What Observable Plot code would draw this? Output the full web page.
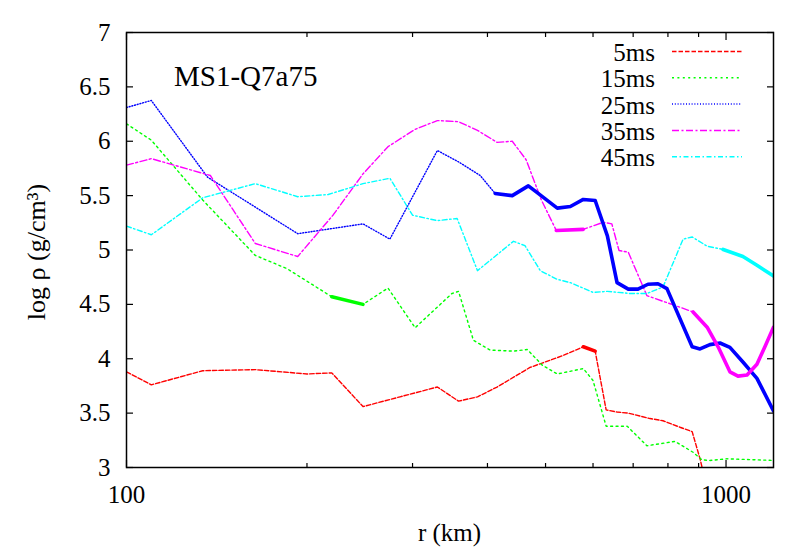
<!DOCTYPE html>
<html>
<head>
<meta charset="utf-8">
<script src="https://cdn.jsdelivr.net/npm/d3@7"></script>
<script src="https://cdn.jsdelivr.net/npm/@observablehq/plot@0.6"></script>
<style>
  html, body { margin: 0; padding: 0; background: #fff; }
  #chart { width: 789px; height: 552px; }
</style>
</head>
<body>
<div id="chart"></div>
<script>
// ---- data ----
const seriesNames = ["5ms", "15ms", "25ms", "35ms", "45ms"];
const seriesColors = ["#ff0000", "#00ff00", "#0000ff", "#ff00ff", "#00ffff"];
const seriesDash = ["4.5,2", "2,3.4", "1,1.8", "7,2.5,2,2.5", "5,2.5,1.5,2.5"];

const r5   = [100, 110, 134, 164, 200, 220, 248, 286, 330, 358, 385, 415, 471, 535, 578, 605, 631, 658, 687, 747, 785, 838, 878, 905, 935];
const rho5 = [3.88, 3.76, 3.89, 3.90, 3.86, 3.87, 3.56, 3.65, 3.74, 3.61, 3.65, 3.74, 3.92, 4.03, 4.11, 4.07, 3.53, 3.51, 3.50, 3.45, 3.43, 3.37, 3.33, 3.08, 2.75];

const r15   = [100, 110, 134, 164, 185, 220, 248, 273, 303, 349, 358, 379, 404, 442, 466, 494, 523, 578, 600, 631, 684, 738, 822, 881, 912, 940, 1004, 1200];
const rho15 = [6.16, 6.01, 5.46, 4.95, 4.83, 4.57, 4.50, 4.65, 4.285, 4.60, 4.62, 4.17, 4.08, 4.07, 4.085, 3.94, 3.86, 3.91, 3.80, 3.38, 3.38, 3.20, 3.24, 3.14, 3.07, 3.065, 3.08, 3.065];

const r25   = [100, 110, 136.5, 193, 248, 275, 330, 358, 389, 412, 440, 468, 486, 523, 550, 578, 605, 634, 658, 687, 713, 741, 770, 797, 878, 905, 940, 977, 1015, 1067, 1126, 1200];
const rho25 = [6.31, 6.375, 5.67, 5.15, 5.24, 5.10, 5.915, 5.81, 5.685, 5.52, 5.50, 5.59, 5.52, 5.385, 5.40, 5.465, 5.455, 5.13, 4.70, 4.64, 4.64, 4.685, 4.69, 4.645, 4.11, 4.09, 4.13, 4.145, 4.105, 3.97, 3.82, 3.52];

const r35   = [100, 110, 138, 164, 193, 221, 248, 273, 303, 330, 358, 385, 415, 440, 464, 492, 521, 578, 624, 645, 663, 687, 738, 822, 881, 930, 970, 1015, 1047, 1084, 1126, 1161, 1200];
const rho35 = [5.78, 5.84, 5.685, 5.06, 4.94, 5.32, 5.70, 5.95, 6.11, 6.19, 6.18, 6.10, 5.99, 6.00, 5.83, 5.46, 5.18, 5.19, 5.255, 5.24, 4.995, 4.98, 4.58, 4.49, 4.43, 4.29, 4.11, 3.88, 3.84, 3.85, 3.95, 4.11, 4.29];

const r45   = [100, 110, 134, 164, 193, 217, 248, 275, 300, 330, 356, 385, 442, 462, 490, 523, 550, 600, 634, 692, 738, 785, 848, 878, 930, 989, 1067, 1126, 1200];
const rho45 = [5.22, 5.14, 5.48, 5.61, 5.49, 5.51, 5.61, 5.66, 5.32, 5.27, 5.29, 4.81, 5.08, 5.04, 4.81, 4.73, 4.70, 4.61, 4.62, 4.60, 4.60, 4.66, 5.10, 5.12, 5.035, 5.005, 4.94, 4.86, 4.76];

// highlighted (solid, thick) parts of each curve: [series index, r from, r to]
const thickSeries = [0, 1, 2, 3, 3, 4];
const thickFrom   = [578, 220, 412, 521, 881, 989];
const thickTo     = [605, 248, 1200, 605, 1200, 1200];

const yTicks = [3, 3.5, 4, 4.5, 5, 5.5, 6, 6.5, 7];
const xMajor = [100, 1000];
const xMinor = [200, 300, 400, 500, 600, 700, 800, 900];

const titleText = "MS1-Q7a75";
const xLabel = "r (km)";
const yLabel = "log ρ (g/cm³)";

// ---- build ----
const fam = "Liberation Serif, DejaVu Serif, Noto Serif, Tinos, FreeSerif, Times, serif";
const allR = [r5, r15, r25, r35, r45];
const allRho = [rho5, rho15, rho25, rho35, rho45];
const tables = allR.map((rs, i) => rs.map((r, j) => ({r, rho: allRho[i][j]})));

const marks = [];
tables.forEach((t, i) => {
  marks.push(Plot.line(t, {x: "r", y: "rho", stroke: seriesColors[i], strokeWidth: 1.4,
    strokeDasharray: seriesDash[i], clip: true}));
});
thickSeries.forEach((s, k) => {
  const sub = tables[s].filter(d => d.r >= thickFrom[k] && d.r <= thickTo[k]);
  marks.push(Plot.line(sub, {x: "r", y: "rho", stroke: seriesColors[s], strokeWidth: 3.6, clip: true}));
});

const axisCommon = {label: null, stroke: "#000", strokeWidth: 1.2};
marks.push(
  Plot.axisY(yTicks, {...axisCommon, anchor: "left", tickSize: -7, text: null}),
  Plot.axisY(yTicks, {...axisCommon, anchor: "right", tickSize: -7, text: null}),
  Plot.axisY(yTicks, {anchor: "left", label: null, tickSize: 0, tickPadding: 16, tickFormat: d => String(d)}),
  Plot.axisX(xMinor, {...axisCommon, anchor: "bottom", tickSize: -4, text: null}),
  Plot.axisX(xMinor, {...axisCommon, anchor: "top", tickSize: -4, text: null}),
  Plot.axisX(xMajor, {...axisCommon, anchor: "bottom", tickSize: -7, text: null}),
  Plot.axisX(xMajor, {...axisCommon, anchor: "top", tickSize: -7, text: null}),
  Plot.axisX(xMajor, {anchor: "bottom", label: null, tickSize: 0, tickPadding: 18, tickFormat: d => String(d)}),
  Plot.frame({stroke: "#000", strokeWidth: 1.5})
);

const svg = Plot.plot({
  width: 789,
  height: 552,
  marginLeft: 126,
  marginRight: 16,
  marginTop: 32,
  marginBottom: 85,
  style: {fontFamily: fam, fontSize: "25px", background: "#fff", color: "#000"},
  x: {type: "log", domain: [100, 1200]},
  y: {domain: [3, 7]},
  marks
});

// annotations: title, axis labels, legend
const root = d3.select(svg);
root.append("text").attr("x", 174).attr("y", 86).attr("font-size", 29).attr("font-family", fam)
  .attr("text-anchor", "start").attr("fill", "#000").text(titleText);
root.append("text").attr("x", 449.5).attr("y", 541).attr("font-size", 25).attr("font-family", fam)
  .attr("text-anchor", "middle").attr("fill", "#000").text(xLabel);
root.append("text").attr("transform", "translate(45,252) rotate(-90)").attr("font-size", 26)
  .attr("font-family", fam).attr("text-anchor", "middle").attr("fill", "#000").text(yLabel);

const legend = root.append("g");
seriesNames.forEach((name, i) => {
  const yy = 51.5 + i * 26.3;
  legend.append("text").attr("x", 655).attr("y", yy + 9.5).attr("text-anchor", "end")
    .attr("font-size", 25).attr("font-family", fam).attr("fill", "#000").text(name);
  legend.append("line").attr("x1", 672).attr("x2", 742).attr("y1", yy).attr("y2", yy)
    .attr("stroke", seriesColors[i]).attr("stroke-width", 1.5).attr("stroke-dasharray", seriesDash[i]);
});

document.getElementById("chart").appendChild(svg);
</script>
</body>
</html>
